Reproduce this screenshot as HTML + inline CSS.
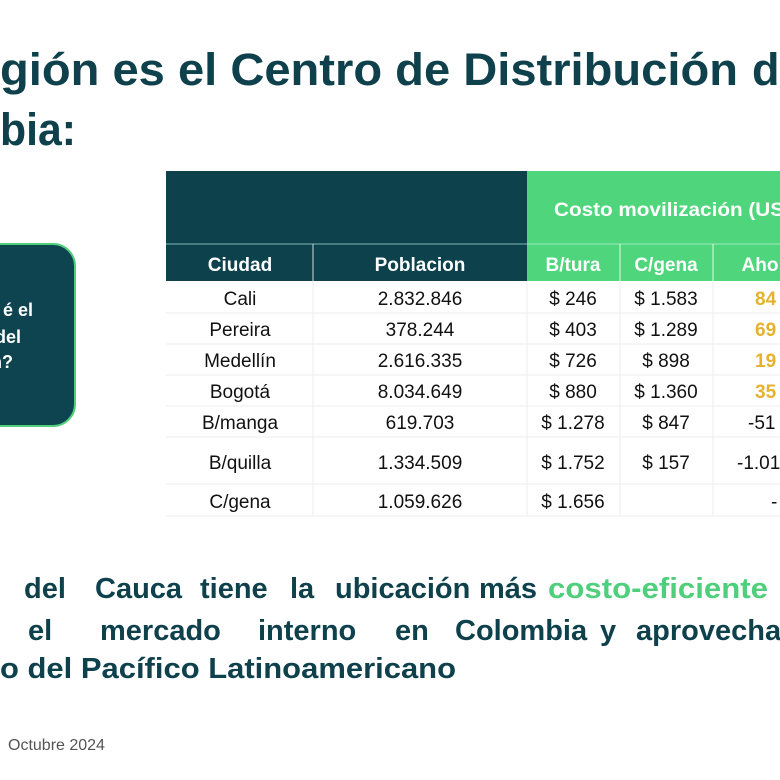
<!DOCTYPE html>
<html><head><meta charset="utf-8"><style>
html,body{margin:0;padding:0;background:#fff;width:780px;height:780px;overflow:hidden;}
svg{display:block;font-family:"Liberation Sans",sans-serif;}
</style></head><body>
<svg width="780" height="780" viewBox="0 0 780 780" xmlns="http://www.w3.org/2000/svg">
<g fill="#0e414c" font-weight="bold" font-size="45">
<text x="0" y="85" textLength="738" lengthAdjust="spacingAndGlyphs">gión es el Centro de Distribución</text>
<text x="752" y="85">d</text>
<text x="0" y="145" textLength="76" lengthAdjust="spacingAndGlyphs">bia:</text>
</g>
<rect x="-30" y="244" width="105" height="182" rx="22" fill="#0d4450" stroke="#4fcf7c" stroke-width="2"/>
<g fill="#fff" font-weight="bold" font-size="18" text-anchor="end">
<text x="33" y="316">é el</text>
<text x="21" y="343">del</text>
<text x="13" y="368">n?</text>
</g>
<rect x="166" y="171" width="361" height="110" fill="#0d424d"/>
<rect x="527" y="171" width="253" height="110" fill="#4fd57b"/>
<line x1="166" y1="244" x2="780" y2="244" stroke="#cfe" stroke-width="1" opacity="0.6"/>
<line x1="313" y1="244" x2="313" y2="281" stroke="#cdd" stroke-width="1"/>
<line x1="620" y1="244" x2="620" y2="281" stroke="#dfd" stroke-width="1"/>
<line x1="713" y1="244" x2="713" y2="281" stroke="#dfd" stroke-width="1"/>
<g fill="#fff" font-weight="bold" font-size="19" text-anchor="middle">
<text x="240" y="271">Ciudad</text>
<text x="420" y="271">Poblacion</text>
<text x="573" y="271">B/tura</text>
<text x="666" y="271">C/gena</text>
<text x="760" y="271">Aho</text>
<text x="554" y="216" text-anchor="start" textLength="230" lengthAdjust="spacingAndGlyphs">Costo movilización (US</text>
</g>
<g stroke="#eeeeee" stroke-width="1">
<line x1="166" y1="313" x2="780" y2="313"/><line x1="166" y1="344" x2="780" y2="344"/>
<line x1="166" y1="375" x2="780" y2="375"/><line x1="166" y1="406" x2="780" y2="406"/>
<line x1="166" y1="437" x2="780" y2="437"/><line x1="166" y1="484" x2="780" y2="484"/>
<line x1="166" y1="516" x2="780" y2="516"/>
<line x1="313" y1="281" x2="313" y2="516"/><line x1="527" y1="281" x2="527" y2="516"/>
<line x1="620" y1="281" x2="620" y2="516"/><line x1="713" y1="281" x2="713" y2="516"/>
</g>
<g fill="#111" font-size="19" text-anchor="middle">
<text x="240" y="305">Cali</text><text x="420" y="305">2.832.846</text><text x="573" y="305">$ 246</text><text x="666" y="305">$ 1.583</text>
<text x="240" y="336">Pereira</text><text x="420" y="336">378.244</text><text x="573" y="336">$ 403</text><text x="666" y="336">$ 1.289</text>
<text x="240" y="367">Medellín</text><text x="420" y="367">2.616.335</text><text x="573" y="367">$ 726</text><text x="666" y="367">$ 898</text>
<text x="240" y="398">Bogotá</text><text x="420" y="398">8.034.649</text><text x="573" y="398">$ 880</text><text x="666" y="398">$ 1.360</text>
<text x="240" y="429">B/manga</text><text x="420" y="429">619.703</text><text x="573" y="429">$ 1.278</text><text x="666" y="429">$ 847</text>
<text x="240" y="469">B/quilla</text><text x="420" y="469">1.334.509</text><text x="573" y="469">$ 1.752</text><text x="666" y="469">$ 157</text>
<text x="240" y="508">C/gena</text><text x="420" y="508">1.059.626</text><text x="573" y="508">$ 1.656</text>
</g>
<g font-size="19" text-anchor="start">
<g fill="#e6b12e" font-weight="bold">
<text x="755" y="305">84</text><text x="755" y="336">69</text><text x="755" y="367">19</text><text x="755" y="398">35</text>
</g>
<g fill="#111">
<text x="748" y="429">-51</text><text x="737" y="469">-1.01</text><text x="771" y="508">-</text>
</g>
</g>
<g fill="#0e414c" font-weight="bold" font-size="29">
<text x="24" y="598">del</text>
<text x="95" y="598">Cauca</text>
<text x="200" y="598">tiene</text>
<text x="290" y="598">la</text>
<text x="335" y="598">ubicación</text>
<text x="479" y="598">más</text>
<text x="548" y="598" fill="#4fcf7c" textLength="220" lengthAdjust="spacingAndGlyphs">costo-eficiente</text>
<text x="28" y="640">el</text>
<text x="100" y="640">mercado</text>
<text x="258" y="640">interno</text>
<text x="395" y="640">en</text>
<text x="455" y="640">Colombia</text>
<text x="600" y="640">y</text>
<text x="636" y="640">aprovecha</text>
<text x="0" y="678" textLength="456" lengthAdjust="spacingAndGlyphs">o del Pacífico Latinoamericano</text>
</g>
<text x="8" y="750" fill="#555" font-size="16">Octubre 2024</text>
</svg>
</body></html>
